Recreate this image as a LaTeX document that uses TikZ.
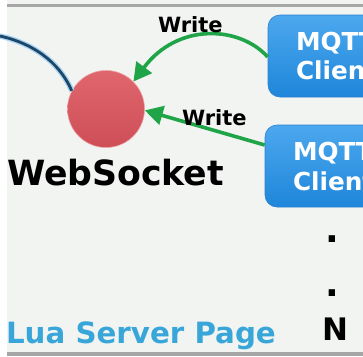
\documentclass[tikz,border=0pt]{standalone}
\usepackage{fontspec}
\setmainfont{DejaVu Sans}
\usetikzlibrary{arrows.meta}
\definecolor{bgc}{HTML}{F2F4F2}
\definecolor{rulec}{HTML}{A6A6A6}
\definecolor{wgreen}{HTML}{20A448}
\definecolor{navy}{HTML}{1D4668}
\definecolor{glow}{HTML}{A8D4F2}
\definecolor{luab}{HTML}{39A6DA}
\definecolor{boxtop}{HTML}{4CA8EE}
\definecolor{boxbot}{HTML}{1F86DA}
\definecolor{boxline}{HTML}{2A80D0}
\definecolor{redtop}{HTML}{E0666E}
\definecolor{redbot}{HTML}{CE4E56}
\tikzset{
  px/.style={x=1pt,y=-1pt},
  txt/.style={anchor=base west,inner sep=0pt,outer sep=0pt},
  clientbox/.style={rounded corners=12pt,top color=boxtop,bottom color=boxbot,draw=boxline,line width=0.6pt,minimum width=140pt,minimum height=82pt,inner sep=0pt},
  boxtxt/.style={txt,text=white,font=\bfseries\fontsize{24.7}{29}\selectfont},
  writearrow/.style={draw=wgreen,line width=3.6pt,-{Triangle[length=18pt,width=19pt]}},
  writelbl/.style={txt,font=\bfseries\fontsize{21}{24}\selectfont},
  bigtxt/.style={txt,font=\bfseries\fontsize{34.7}{40}\selectfont},
  dotstyle/.style={txt,font=\bfseries\fontsize{36}{40}\selectfont},
}
\begin{document}
\begin{tikzpicture}[px]
\useasboundingbox (0,0) rectangle (363,356);
\clip (0,0) rectangle (363,356);
\fill[bgc] (0,0) rectangle (363,356);
\fill[white] (0,0) rectangle (7,356);
\fill[rulec] (7,4) rectangle (363,7);
\fill[rulec] (7,352) rectangle (363,356);

% boxes
\node[clientbox] (c1) at (338,56) {};
\node[clientbox] (c2) at (335,166) {};
\node[boxtxt] (c1a) at (296,50) {MQTT};
\node[boxtxt] (c1b) at (296,79) {Client};
\node[boxtxt] (c2a) at (293,160) {MQTT};
\node[boxtxt] (c2b) at (293,190) {Client};

% websocket circle
\node[circle,minimum size=77pt,inner sep=0pt,top color=redtop,bottom color=redbot,draw=redtop!60!white,line width=0.6pt] (ws) at (106,109) {};

% blue curve from left
\coordinate (lft) at (0,36);
\draw[glow,line width=5.5pt] (lft) .. controls (40,45) and (62,68) .. (ws.152);
\draw[navy,line width=2.8pt] (lft) .. controls (40,45) and (62,68) .. (ws.152);

% write arrows
\draw[writearrow] (c1.west |- 0,57) .. controls (240,26) and (178,22) .. (ws.45);
\draw[writearrow] (c2.west |- 0,145) -- (ws.-2);
\node[writelbl] (w1) at (158,32) {Write};
\node[writelbl] (w2) at (182,125) {Write};

% texts
\node[bigtxt] (wst) at (7,185) {WebSocket};
\node[txt,text=luab,font=\bfseries\fontsize{29.3}{34}\selectfont] (lua) at (6,343) {Lua Server Page};
\node[dotstyle] (d1) at (325,242) {.};
\node[dotstyle] (d2) at (325,296) {.};
\node[txt,font=\bfseries\fontsize{31}{36}\selectfont] (nn) at (322,340) {N};
\end{tikzpicture}
\end{document}
